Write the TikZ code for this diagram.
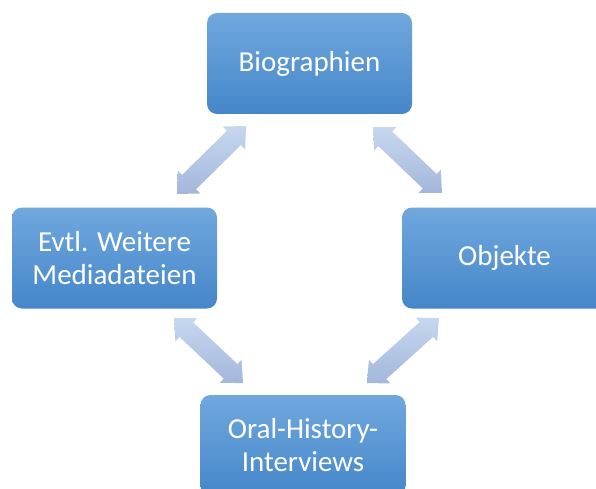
\documentclass[tikz,border=0pt]{standalone}
\usepackage{fontspec}
\setmainfont{Carlito}
\usetikzlibrary{calc}
\definecolor{boxtop}{HTML}{70A8DE}
\definecolor{boxbot}{HTML}{4586C9}
\definecolor{arrtop}{HTML}{C6D7EF}
\definecolor{arrbot}{HTML}{A3B7DB}
\newcommand{\ah}{17pt}
\newcommand{\aH}{16pt}
\newcommand{\aw}{10pt}
\newcommand{\dblarrow}[2]{%
  \path[arrowfill] (#1) -- ($(#1)!\ah!(#2)!\aH!90:(#2)$) -- ($(#1)!\ah!(#2)!\aw!90:(#2)$)
   -- ($(#2)!\ah!(#1)!\aw!-90:(#1)$) -- ($(#2)!\ah!(#1)!\aH!-90:(#1)$) -- (#2)
   -- ($(#2)!\ah!(#1)!\aH!90:(#1)$) -- ($(#2)!\ah!(#1)!\aw!90:(#1)$)
   -- ($(#1)!\ah!(#2)!\aw!-90:(#2)$) -- ($(#1)!\ah!(#2)!\aH!-90:(#2)$) -- cycle;}
\tikzset{
  box/.style={rectangle, rounded corners=10pt, minimum width=205pt, minimum height=101pt,
    top color=boxtop, bottom color=boxbot, draw=none, text=white, align=center,
    font=\fontsize{29}{33}\selectfont, inner sep=0pt},
  arrowfill/.style={top color=arrtop, bottom color=arrbot, draw=none}
}
\begin{document}
\begin{tikzpicture}[x=1pt,y=1pt]
\useasboundingbox (0,0) rectangle (596,488);
\clip (0,0) rectangle (596,488);
\node[box] (bio) at (309.5,424.5) {Biographien};
\node[box] (evtl) at (114.5,230) {Evtl. Weitere\\Mediadateien};
\node[box] (obj) at (504.5,230) {Objekte};
\node[box] (oral) at (303,42.5) {Oral-History-\\Interviews};
\coordinate (a1) at (246,362);
\coordinate (b1) at (177,294);
\coordinate (a2) at (373,361);
\coordinate (b2) at (442,295);
\coordinate (a3) at (174,170);
\coordinate (b3) at (243,105);
\coordinate (a4) at (439,170);
\coordinate (b4) at (367,105);
\dblarrow{a1}{b1}
\dblarrow{a2}{b2}
\dblarrow{a3}{b3}
\dblarrow{a4}{b4}
\end{tikzpicture}
\end{document}
